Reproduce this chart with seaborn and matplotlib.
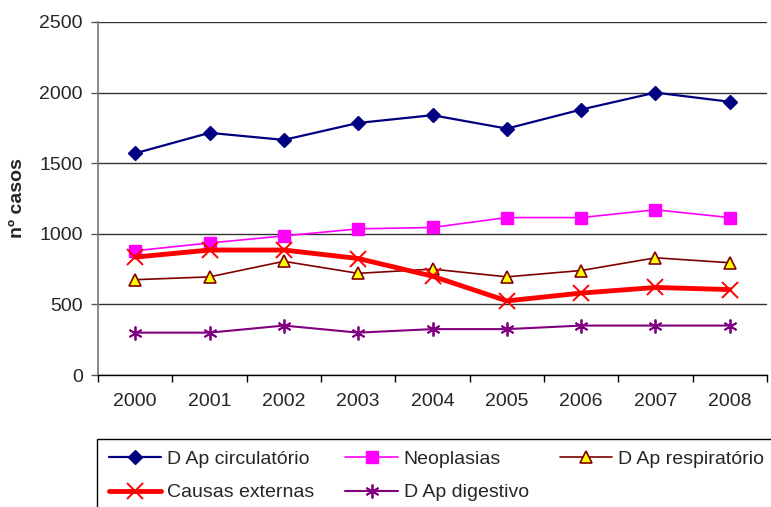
import matplotlib
matplotlib.use("Agg")
import matplotlib.pyplot as plt
from matplotlib.ticker import FixedLocator, NullFormatter
import pandas as pd
import seaborn as sns

# --------------------------------------------------------------------------- #
# Data
# --------------------------------------------------------------------------- #
years = ["2000", "2001", "2002", "2003", "2004", "2005", "2006", "2007", "2008"]
circulatorio = [1570, 1715, 1665, 1785, 1840, 1745, 1880, 2000, 1935]
neoplasias = [880, 935, 985, 1035, 1045, 1115, 1115, 1170, 1115]
respiratorio = [675, 695, 805, 720, 750, 695, 740, 830, 795]
externas = [835, 885, 885, 825, 700, 525, 580, 620, 605]
digestivo = [300, 300, 350, 300, 325, 325, 350, 350, 350]

series = {
    "D Ap circulatório": circulatorio,
    "Neoplasias": neoplasias,
    "D Ap respiratório": respiratorio,
    "Causas externas": externas,
    "D Ap digestivo": digestivo,
}

styles = {
    "D Ap circulatório": dict(color="#000080", lw=1.6, marker="D", ms=7,
                              mfc="#000080", mec="#000080"),
    "Neoplasias": dict(color="#FF00FF", lw=1.2, marker="s", ms=8,
                       mfc="#FF00FF", mec="#FF00FF"),
    "D Ap respiratório": dict(color="#800000", lw=1.2, marker="^", ms=9,
                              mfc="#FFFF00", mec="#800000", mew=1.2),
    "Causas externas": dict(color="#FF0000", lw=3.5, marker="x", ms=11,
                            mec="#FF0000", mew=1.4),
    "D Ap digestivo": dict(color="#800080", lw=1.5, marker=(6, 2, 0), ms=10,
                           mec="#800080", mew=1.3),
}

# --------------------------------------------------------------------------- #
# Style
# --------------------------------------------------------------------------- #
sns.set_theme(style="white")
plt.rcParams["font.family"] = ["Liberation Sans", "DejaVu Sans"]

fig = plt.figure(figsize=(7.71, 5.07), dpi=100)
ax = fig.add_axes([98 / 771, 1 - 375 / 507, 669 / 771, 353 / 507])

handles = {}
for name, vals in series.items():
    df = pd.DataFrame({"ano": years, "casos": vals})
    st = styles[name]
    sns.lineplot(data=df, x="ano", y="casos", ax=ax, color=st["color"],
                 linewidth=st["lw"], marker=st["marker"], markersize=st["ms"],
                 markerfacecolor=st.get("mfc", st["color"]),
                 markeredgecolor=st["mec"], markeredgewidth=st.get("mew", 1.0),
                 label=name, legend=False)
    handles[name] = ax.lines[-1]

ax.set_xlim(-0.5, 8.5)
ax.set_ylim(0, 2500)
ax.set_yticks([0, 500, 1000, 1500, 2000, 2500])
ax.yaxis.grid(True, color="#333333", lw=1)
ax.set_axisbelow(True)

# category ticks between labels, labels centred
ax.xaxis.set_major_locator(FixedLocator([i - 0.5 for i in range(len(years) + 1)]))
ax.xaxis.set_major_formatter(NullFormatter())
ax.set_xticks(range(len(years)), minor=True)
ax.set_xticklabels(years, minor=True)
ax.tick_params(axis="x", which="major", direction="out", length=5, width=1,
               color="black", bottom=True)
ax.tick_params(axis="x", which="minor", length=0, pad=13, labelsize=14)
ax.tick_params(axis="y", direction="out", length=5, width=1, color="#555555",
               left=True, pad=6, labelsize=14)

for s in ("top", "right"):
    ax.spines[s].set_visible(False)
ax.spines["left"].set_color("#777777")
ax.spines["bottom"].set_color("black")
ax.spines["left"].set_linewidth(1.2)
ax.spines["bottom"].set_linewidth(1.0)

ax.set_xlabel("")
ax.set_ylabel("nº casos", fontsize=14, fontweight="bold")
ax.yaxis.set_label_coords(-0.108, 0.5)

order = ["D Ap circulatório", "Causas externas", "Neoplasias", "D Ap digestivo",
         "D Ap respiratório"]
leg = fig.legend([handles[n] for n in order], order, ncol=3,
                 loc="upper left", bbox_to_anchor=(97 / 771, 1 - 439 / 507),
                 fontsize=14, frameon=True, fancybox=False, framealpha=1,
                 edgecolor="black", handlelength=2.7, handletextpad=0.3,
                 columnspacing=1.6, labelspacing=0.8, borderpad=0.6,
                 borderaxespad=0)
leg.get_frame().set_linewidth(1.0)

fig.savefig("out.png", dpi=100)
